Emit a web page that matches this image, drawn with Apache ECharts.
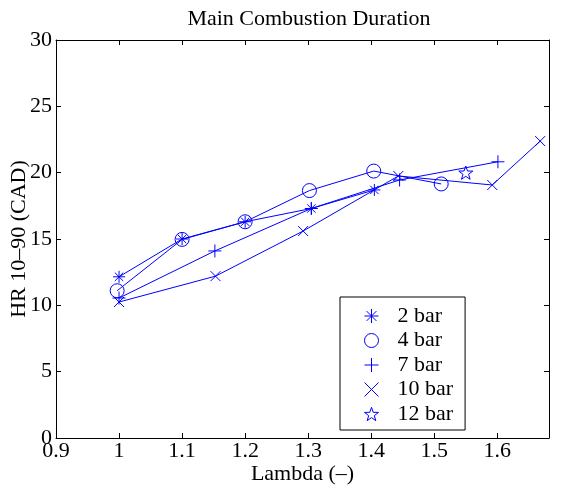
<!DOCTYPE html>
<html>
<head>
<meta charset="utf-8">
<script src="https://cdn.jsdelivr.net/npm/echarts@6/dist/echarts.min.js"></script>
<style>
  html, body { margin: 0; padding: 0; background: #fff; }
  #chart { width: 561px; height: 489px; }
</style>
</head>
<body>
<div id="chart"></div>
<script>
// values
const lambda2 = [1.0, 1.1, 1.2, 1.305, 1.405];
const hr2 = [12.15, 15.0, 16.3, 17.3, 18.7];
const lambda4 = [0.997, 1.1, 1.2, 1.302, 1.404, 1.511];
const hr4 = [11.1, 14.97, 16.3, 18.65, 20.12, 19.15];
const lambda7 = [1.0, 1.152, 1.305, 1.445, 1.601];
const hr7 = [10.55, 14.1, 17.3, 19.45, 20.82];
const lambda10 = [1.0, 1.153, 1.292, 1.443, 1.592, 1.668];
const hr10 = [10.25, 12.2, 15.6, 19.75, 19.07, 22.38];
const lambda12 = [1.55];
const hr12 = [20.0];
const seriesNames = ['2 bar', '4 bar', '7 bar', '10 bar', '12 bar'];

const BLUE = '#0000ff';
const FONT = 'Liberation Serif';
const FS = 22;

// MATLAB-like markers
const symAsterisk = 'path://M5,0L5,10M0,5L10,5M1.5,1.5L8.5,8.5M1.5,8.5L8.5,1.5';
const symPlus = 'path://M5,0L5,10M0,5L10,5';
const symCross = 'path://M0,0L10,10M0,10L10,0';
const symStar = 'path://M10,0L12.35,6.76L19.51,6.91L13.8,11.24L15.88,18.09L10,14L4.12,18.09L6.2,11.24L0.49,6.91L7.65,6.76Z';
const symCircle = 'path://M10,0A10,10,0,1,1,9.99,0Z';

const markers = [
  { sym: symAsterisk, size: 12 },
  { sym: symCircle, size: 14 },
  { sym: symPlus, size: 13 },
  { sym: symCross, size: 10 },
  { sym: symStar, size: 14 }
];

function pairs(xs, ys) {
  return xs.map((x, i) => [x, ys[i]]);
}
const allData = [
  pairs(lambda2, hr2),
  pairs(lambda4, hr4),
  pairs(lambda7, hr7),
  pairs(lambda10, hr10),
  pairs(lambda12, hr12)
];

const markStyle = { color: 'none', borderColor: BLUE, borderWidth: 1 };

const chart = echarts.init(document.getElementById('chart'));

chart.setOption({
  animation: false,
  backgroundColor: '#fff',
  title: {
    text: 'Main Combustion Duration',
    left: 304,
    textAlign: 'center',
    top: 3,
    textStyle: { fontFamily: FONT, fontSize: FS, fontWeight: 'normal', color: '#000' }
  },
  grid: { left: 56, right: 12, top: 40, bottom: 51, containLabel: false, outerBoundsMode: 'none' },
  legend: {
    orient: 'vertical',
    left: 340,
    top: 297,
    padding: [8, 12, 5, 22],
    itemGap: 2.5,
    itemWidth: 14,
    itemHeight: 14,
    borderColor: '#000',
    borderWidth: 1,
    backgroundColor: '#fff',
    textStyle: { fontFamily: FONT, fontSize: FS, lineHeight: 22, color: '#000', padding: [0, 0, 0, 14] },
    data: seriesNames.map((n, i) => ({
      name: n,
      icon: markers[i].sym,
      itemStyle: markStyle
    }))
  },
  xAxis: [
    {
      type: 'value',
      min: 0.9,
      max: 1.682,
      interval: 0.1,
      name: 'Lambda (–)',
      nameLocation: 'middle',
      nameGap: 25,
      nameMoveOverlap: false,
      nameTextStyle: { fontFamily: FONT, fontSize: FS, color: '#000' },
      axisLine: { show: true, onZero: false, lineStyle: { color: '#000', width: 1 } },
      axisTick: { show: true, inside: true, length: 5, lineStyle: { color: '#000' } },
      axisLabel: {
        fontFamily: FONT, fontSize: FS, color: '#000', margin: 2,
        showMaxLabel: false,
        formatter: v => String(Math.round(v * 10) / 10)
      },
      splitLine: { show: false }
    },
    {
      type: 'value',
      position: 'top',
      min: 0.9,
      max: 1.682,
      interval: 0.1,
      axisLine: { show: true, onZero: false, lineStyle: { color: '#000', width: 1 } },
      axisTick: { show: true, inside: true, length: 5, lineStyle: { color: '#000' } },
      axisLabel: { show: false },
      splitLine: { show: false }
    }
  ],
  yAxis: [
    {
      type: 'value',
      min: 0,
      max: 30,
      interval: 5,
      name: 'HR 10–90 (CAD)',
      nameLocation: 'middle',
      nameGap: 26,
      nameMoveOverlap: false,
      nameTextStyle: { fontFamily: FONT, fontSize: FS, color: '#000' },
      axisLine: { show: true, onZero: false, lineStyle: { color: '#000', width: 1 } },
      axisTick: { show: true, inside: true, length: 5, lineStyle: { color: '#000' } },
      axisLabel: { fontFamily: FONT, fontSize: FS, color: '#000', margin: 4 },
      splitLine: { show: false }
    },
    {
      type: 'value',
      position: 'right',
      min: 0,
      max: 30,
      interval: 5,
      axisLine: { show: true, onZero: false, lineStyle: { color: '#000', width: 1 } },
      axisTick: { show: true, inside: true, length: 5, lineStyle: { color: '#000' } },
      axisLabel: { show: false },
      splitLine: { show: false }
    }
  ],
  series: seriesNames.map((n, i) => ({
    name: n,
    type: 'line',
    xAxisIndex: 0,
    yAxisIndex: 0,
    data: allData[i],
    symbol: markers[i].sym,
    symbolSize: markers[i].size,
    symbolKeepAspect: true,
    showAllSymbol: true,
    lineStyle: { color: BLUE, width: 1 },
    itemStyle: markStyle,
    emphasis: { disabled: true }
  }))
});
</script>
</body>
</html>
